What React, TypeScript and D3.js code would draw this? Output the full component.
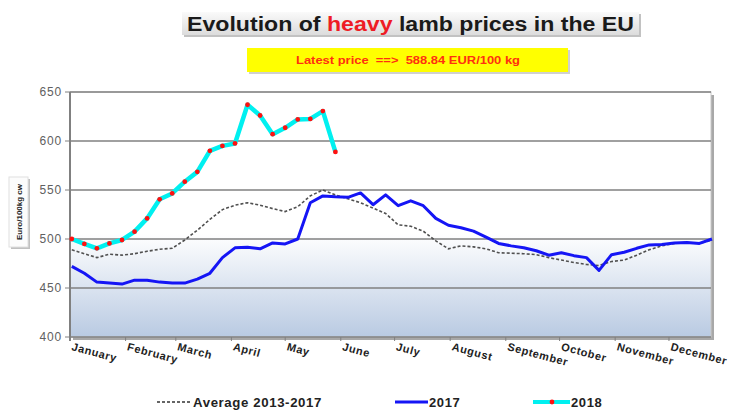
import React from 'react';
import * as d3 from 'd3';

// weekly prices, euro/100kg cw
const avg2013_2017 = [
  489, 485, 481, 484.5, 483.5, 485, 487.5, 489.5, 490.5, 499, 509, 520, 530,
  534.5, 537, 534.5, 531, 528, 533, 544, 550, 545, 541, 537, 531.5, 526,
  514.5, 513, 508, 498, 490, 493, 492, 490, 486, 485.5, 485, 484, 481, 478.5,
  476, 474, 473, 477, 478.5, 483.5, 489, 493, 495.5, 496.5, 495.5, 499,
];
const prices2017 = [
  472, 465, 456, 455, 454, 458, 458, 456, 455, 455, 459, 465, 481, 491,
  491.5, 490, 496, 495, 500, 537, 544, 543, 542.5, 547, 535, 545, 534, 539,
  534, 521, 514, 511.5, 508, 502, 495.5, 493, 491, 488, 483.5, 486, 483, 481,
  468, 484, 486.5, 490.5, 494, 494.5, 496, 496.5, 495.5, 500,
];
const prices2018 = [
  500, 495, 490.5, 495.5, 499, 507.5, 521, 540.5, 546.5, 558.5, 568.5, 590,
  595, 597.5, 637, 626, 607, 613.5, 622, 622.5, 630.5, 588.84,
];
const yTicks = [400, 450, 500, 550, 600, 650];
const monthNames = [
  'January', 'February', 'March', 'April', 'May', 'June', 'July', 'August',
  'September', 'October', 'November', 'December',
];
const latestPrice = '588.84';

const W = 733;
const H = 411;
const plot = { left: 70, right: 711, top: 92, bottom: 337 };
const font = '"Liberation Sans", Arial, sans-serif';

const yearStart = new Date(2017, 0, 1);
const weekDate = (i: number) => d3.timeDay.offset(yearStart, 1 + 7 * i);

const x = d3.scaleTime()
  .domain([yearStart, d3.timeDay.offset(yearStart, 358)])
  .range([plot.left, 712]);

const y = d3.scaleLinear()
  .domain([400, 650])
  .range([plot.bottom, plot.top]);

const line = d3.line<number>()
  .x((d, i) => x(weekDate(i)))
  .y(d => y(d));

const monthTicks = d3.timeMonths(yearStart, new Date(2018, 0, 1));

export default function App() {
  const pw = plot.right - plot.left;
  const ph = plot.bottom - plot.top;
  return (
    <svg width={W} height={H} style={{ position: 'absolute', left: 0, top: 0, fontFamily: font }}>
      <defs>
        <linearGradient id="bg" x1="0" y1="0" x2="0" y2="1">
          <stop offset="0%" stopColor="#ffffff" />
          <stop offset="58%" stopColor="#ffffff" />
          <stop offset="100%" stopColor="#b9cae2" />
        </linearGradient>
        <linearGradient id="titleBg" x1="0" y1="0" x2="0" y2="1">
          <stop offset="0%" stopColor="#fafafa" />
          <stop offset="100%" stopColor="#dcdcdc" />
        </linearGradient>
      </defs>

      <rect width={W} height={H} fill="#fff" />

      {/* title */}
      <rect x={184} y={14} width={457} height={23} fill="#9a9a9a" opacity={0.6} />
      <rect x={182} y={12} width={457} height={23} fill="url(#titleBg)" />
      <text x={187} y={31} fontSize={19.5} fontWeight="bold" fill="#1a1a1a"
        textLength={447} lengthAdjust="spacingAndGlyphs">
        Evolution of <tspan fill="#ee1c25">heavy</tspan> lamb prices in the EU
      </text>

      {/* latest price box */}
      <rect x={249} y={50} width={321} height={24} fill="#b0b0b0" opacity={0.6} />
      <rect x={247} y={48} width={321} height={24} fill="#ffff00" />
      <text x={296} y={64} fontSize={10} fontWeight="bold" fill="#ff3010"
        style={{ whiteSpace: 'pre' }} textLength={224} lengthAdjust="spacingAndGlyphs">
        {`Latest price  ==>  ${latestPrice} EUR/100 kg`}
      </text>

      {/* plot background with shadow */}
      <rect x={plot.left + 3} y={plot.top + 3} width={pw} height={ph} fill="#a8a8a8" />
      <rect x={plot.left} y={plot.top} width={pw} height={ph} fill="url(#bg)" stroke="#c8c8c8" />

      {yTicks.map(t => (
        <g key={t}>
          {t > 400 && (
            <line x1={plot.left} x2={plot.right} y1={y(t)} y2={y(t)} stroke="#808080" strokeWidth={1.5} />
          )}
          <line x1={plot.left - 5} x2={plot.left} y1={y(t)} y2={y(t)} stroke="#808080" />
          <text x={plot.left - 8} y={y(t) + 4} textAnchor="end" fontSize={12} letterSpacing={0.8} fill="#606060">
            {t}
          </text>
        </g>
      ))}
      <line x1={plot.left} x2={plot.left} y1={plot.top} y2={plot.bottom + 4} stroke="#808080" strokeWidth={2} />
      <line x1={plot.left} x2={plot.right} y1={plot.bottom} y2={plot.bottom} stroke="#808080" strokeWidth={1.5} />

      {monthTicks.map((m, i) => (
        <g key={i}>
          <line x1={x(m)} x2={x(m)} y1={plot.bottom} y2={plot.bottom + 4} stroke="#808080" />
          <text
            transform={`translate(${x(m) + 1},${plot.bottom + 13}) rotate(15)`}
            fontSize={11}
            letterSpacing={0.6}
            fontWeight="bold"
            fill="#222"
          >
            {monthNames[i]}
          </text>
        </g>
      ))}

      {/* y axis label */}
      <rect x={11} y={179} width={19} height={70} fill="#c0c0c0" />
      <rect x={9} y={177} width={19} height={70} fill="#fcfcfc" stroke="#e0e0e0" />
      <text transform="translate(21.5,212) rotate(-90)" textAnchor="middle" fontSize={8} fontWeight="bold" fill="#222">
        Euro/100kg cw
      </text>

      {/* series */}
      <path d={line(avg2013_2017) ?? ''} fill="none" stroke="#505050" strokeWidth={1.6} strokeDasharray="3,2" />
      <path d={line(prices2017) ?? ''} fill="none" stroke="#1515f5" strokeWidth={3} strokeLinejoin="round" />
      <path d={line(prices2018) ?? ''} fill="none" stroke="#00f0f0" strokeWidth={4.5} strokeLinejoin="round" />
      {prices2018.map((d, i) => (
        <circle key={i} cx={x(weekDate(i))} cy={y(d)} r={2.4} fill="#ff1010" />
      ))}

      {/* legend */}
      <g fontSize={13} fontWeight="bold" fill="#222" letterSpacing={0.6}>
        <line x1={157} x2={190} y1={402} y2={402} stroke="#333" strokeWidth={1.6} strokeDasharray="3,2" />
        <text x={193} y={407} textLength={129} lengthAdjust="spacingAndGlyphs">Average 2013-2017</text>
        <line x1={395} x2={428} y1={402} y2={402} stroke="#1515f5" strokeWidth={3} />
        <text x={429} y={407}>2017</text>
        <line x1={533} x2={570} y1={402} y2={402} stroke="#00f0f0" strokeWidth={4} />
        <circle cx={552} cy={402} r={2.4} fill="#ff1010" />
        <text x={571} y={407}>2018</text>
      </g>
    </svg>
  );
}
